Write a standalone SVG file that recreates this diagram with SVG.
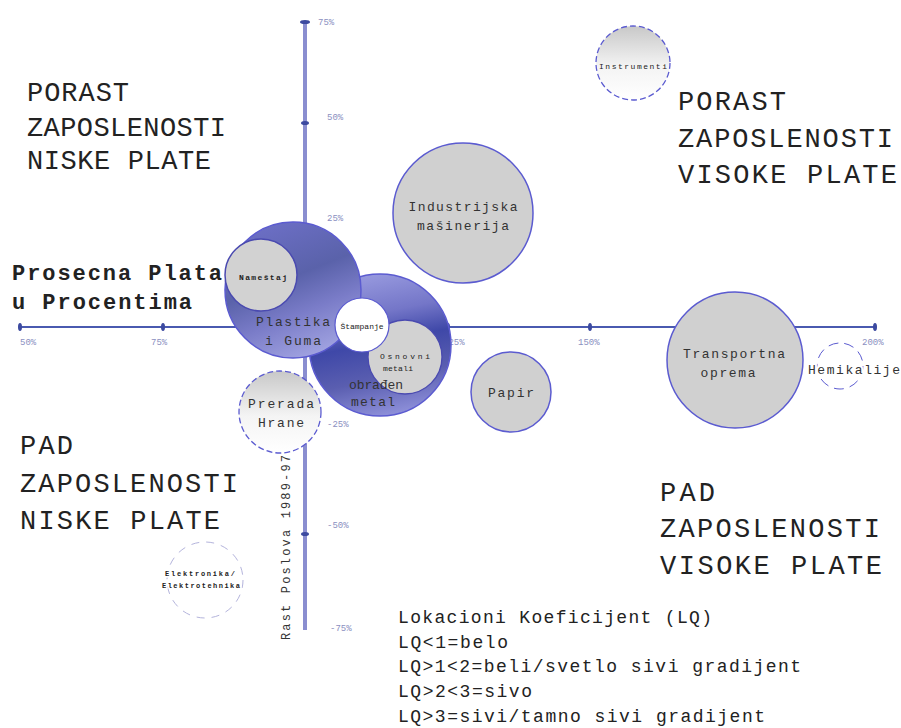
<svg xmlns="http://www.w3.org/2000/svg" width="901" height="728" viewBox="0 0 901 728">
<style>
text{font-family:"Liberation Mono","Courier New",monospace;fill:#222}
.big{font-size:27px}
.pp{font-size:22px;font-weight:bold}
.leg{font-size:18px}
.ax{font-size:9px;fill:#8a8fbf}
.lbl{font-size:13px;fill:#333}
.sm{font-size:8px;fill:#222}
.gray{fill:#d0d0d0;stroke:#5b5bd0;stroke-width:1.5}
.dash{stroke:#5b5bd0;stroke-width:1.3;stroke-dasharray:6 3}
.tick{fill:#3c4aa0}
</style>
<defs>
<linearGradient id="wg" x1="0" y1="0" x2="0" y2="1">
<stop offset="0" stop-color="#c8c8c8"/><stop offset="0.55" stop-color="#f4f4f4"/><stop offset="1" stop-color="#ffffff"/>
</linearGradient>
<linearGradient id="bg1" x1="0.2" y1="0" x2="0.6" y2="1">
<stop offset="0" stop-color="#6e70c8"/><stop offset="0.45" stop-color="#5a62aa"/><stop offset="0.7" stop-color="#7a7cc8"/><stop offset="1" stop-color="#a0a2e0"/>
</linearGradient>
<linearGradient id="bg2" x1="0.3" y1="0" x2="0.5" y2="1">
<stop offset="0" stop-color="#9a9ce0"/><stop offset="0.3" stop-color="#7476c8"/><stop offset="0.5" stop-color="#3f48a8"/><stop offset="0.75" stop-color="#5a5eb0"/><stop offset="1" stop-color="#8c8ed8"/>
</linearGradient>
</defs>
<rect width="901" height="728" fill="#fff"/>
<g id="axes">
<line x1="305" y1="22" x2="305" y2="630" stroke="#8a8ed0" stroke-width="4"/>
<line x1="20" y1="327" x2="875" y2="327" stroke="#4a5ab0" stroke-width="2"/>
<ellipse class="tick" cx="305" cy="22" rx="5" ry="2"/>
<ellipse class="tick" cx="305" cy="123" rx="4" ry="2"/>
<ellipse class="tick" cx="305" cy="534" rx="4" ry="2"/>
<ellipse class="tick" cx="20" cy="327" rx="2" ry="4"/>
<ellipse class="tick" cx="163" cy="327" rx="2" ry="4"/>
<ellipse class="tick" cx="448" cy="327" rx="2" ry="4"/>
<ellipse class="tick" cx="590" cy="327" rx="2" ry="4"/>
<ellipse class="tick" cx="875" cy="327" rx="2" ry="4"/>
<text class="ax" x="318" y="25">75%</text>
<text class="ax" x="327" y="120">50%</text>
<text class="ax" x="327" y="221">25%</text>
<text class="ax" x="327" y="427">-25%</text>
<text class="ax" x="327" y="528">-50%</text>
<text class="ax" x="330" y="631">-75%</text>
<text class="ax" x="20" y="345">50%</text>
<text class="ax" x="151" y="345">75%</text>
<text class="ax" x="443" y="345">125%</text>
<text class="ax" x="578" y="345">150%</text>
<text class="ax" x="862" y="345">200%</text>
<text class="lbl" transform="translate(290,640) rotate(-90)" textLength="185" lengthAdjust="spacing" style="font-size:12px">Rast Poslova 1989-97</text>
</g>
<g id="quadrants">
<text class="big" x="27" y="101" textLength="102" lengthAdjust="spacing">PORAST</text>
<text class="big" x="27" y="136" textLength="199" lengthAdjust="spacing">ZAPOSLENOSTI</text>
<text class="big" x="27" y="169" textLength="184" lengthAdjust="spacing">NISKE PLATE</text>
<text class="big" x="678" y="110" textLength="108" lengthAdjust="spacing">PORAST</text>
<text class="big" x="678" y="147" textLength="215" lengthAdjust="spacing">ZAPOSLENOSTI</text>
<text class="big" x="678" y="183" textLength="219" lengthAdjust="spacing">VISOKE PLATE</text>
<text class="big" x="20" y="454" textLength="53" lengthAdjust="spacing">PAD</text>
<text class="big" x="20" y="492" textLength="218" lengthAdjust="spacing">ZAPOSLENOSTI</text>
<text class="big" x="20" y="529" textLength="200" lengthAdjust="spacing">NISKE PLATE</text>
<text class="big" x="660" y="501" textLength="55" lengthAdjust="spacing">PAD</text>
<text class="big" x="660" y="537" textLength="220" lengthAdjust="spacing">ZAPOSLENOSTI</text>
<text class="big" x="660" y="574" textLength="222" lengthAdjust="spacing">VISOKE PLATE</text>
<text class="pp" x="12" y="280" textLength="210" lengthAdjust="spacing">Prosecna Plata</text>
<text class="pp" x="12" y="309" textLength="180" lengthAdjust="spacing">u Procentima</text>
</g>
<g id="instrumenti">
<circle cx="633" cy="63" r="37" fill="url(#wg)" class="dash"/>
<text class="sm" x="633" y="69" text-anchor="middle" textLength="68" lengthAdjust="spacing">Instrumenti</text>
</g>
<g id="industrijska">
<circle cx="463" cy="213" r="70" class="gray"/>
<text class="lbl" x="463" y="211" text-anchor="middle" textLength="109" lengthAdjust="spacing">Industrijska</text>
<text class="lbl" x="463" y="230" text-anchor="middle" textLength="92" lengthAdjust="spacing">mašinerija</text>
</g>
<g id="obradjen">
<circle cx="380" cy="345" r="71" fill="url(#bg2)" stroke="#5b5bd0" stroke-width="1.5"/>
</g>
<g id="osnovni">
<circle cx="405" cy="357" r="37" fill="#d2d2d2" stroke="#4a4ab0" stroke-width="1.3"/>
<text class="sm" x="405" y="359" text-anchor="middle" textLength="50" lengthAdjust="spacing">Osnovni</text>
<text class="sm" x="398" y="371" text-anchor="middle" textLength="30" lengthAdjust="spacing">metali</text>
</g>
<g id="obradjen-label">
<text class="lbl" x="376" y="389" text-anchor="middle" textLength="54" lengthAdjust="spacing">obrađen</text>
<text class="lbl" x="373" y="406" text-anchor="middle" textLength="44" lengthAdjust="spacing">metal</text>
</g>
<g id="plastika">
<circle cx="293" cy="290" r="68" fill="url(#bg1)" stroke="#5b5bd0" stroke-width="1.5"/>
<text class="lbl" x="293" y="326" text-anchor="middle" textLength="74" lengthAdjust="spacing">Plastika</text>
<text class="lbl" x="293" y="345" text-anchor="middle" textLength="56" lengthAdjust="spacing">i Guma</text>
</g>
<g id="namestaj">
<circle cx="261" cy="275" r="36" fill="#d2d2d2" stroke="#4a4ab0" stroke-width="1.5"/>
<text class="sm" x="263" y="280" text-anchor="middle" font-weight="bold" textLength="48" lengthAdjust="spacing">Nameštaj</text>
</g>
<g id="stampanje">
<circle cx="362" cy="325" r="27" fill="#fff" stroke="#5b5bd0" stroke-width="1.2"/>
<text class="sm" x="362" y="329" text-anchor="middle" textLength="43" lengthAdjust="spacing">Štampanje</text>
</g>
<g id="prerada">
<circle cx="280" cy="412" r="41" fill="url(#wg)" class="dash"/>
<text class="lbl" x="281" y="408" text-anchor="middle" textLength="66" lengthAdjust="spacing">Prerada</text>
<text class="lbl" x="281" y="427" text-anchor="middle" textLength="46" lengthAdjust="spacing">Hrane</text>
</g>
<g id="papir">
<circle cx="511" cy="392" r="40" class="gray"/>
<text class="lbl" x="511" y="397" text-anchor="middle" textLength="46" lengthAdjust="spacing">Papir</text>
</g>
<g id="transportna">
<circle cx="735" cy="360" r="68" class="gray"/>
<text class="lbl" x="734" y="358" text-anchor="middle" textLength="102" lengthAdjust="spacing">Transportna</text>
<text class="lbl" x="728" y="377" text-anchor="middle" textLength="55" lengthAdjust="spacing">oprema</text>
</g>
<g id="hemikalije">
<circle cx="840" cy="366" r="23" fill="none" stroke="#5b5bd0" stroke-width="1" stroke-dasharray="10 6"/>
<text class="lbl" x="808" y="374" textLength="92" lengthAdjust="spacing" stroke="#fff" stroke-width="4" paint-order="stroke">Hemikalije</text>
</g>
<g id="elektronika">
<circle cx="205" cy="580" r="38" fill="none" stroke="#b4b4dc" stroke-width="1" stroke-dasharray="8 7"/>
<text class="sm" x="200" y="576" text-anchor="middle" font-weight="bold" style="font-size:7px" textLength="70" lengthAdjust="spacing" stroke="#fff" stroke-width="3" paint-order="stroke">Elektronika/</text>
<text class="sm" x="201" y="588" text-anchor="middle" font-weight="bold" style="font-size:7px" textLength="78" lengthAdjust="spacing" stroke="#fff" stroke-width="3" paint-order="stroke">Elektrotehnika</text>
</g>
<g id="legend">
<text class="leg" x="398" y="623" textLength="314" lengthAdjust="spacing">Lokacioni Koeficijent (LQ)</text>
<text class="leg" x="398" y="648" textLength="110" lengthAdjust="spacing">LQ&lt;1=belo</text>
<text class="leg" x="398" y="672" textLength="403" lengthAdjust="spacing">LQ&gt;1&lt;2=beli/svetlo sivi gradijent</text>
<text class="leg" x="398" y="697" textLength="134" lengthAdjust="spacing">LQ&gt;2&lt;3=sivo</text>
<text class="leg" x="398" y="722" textLength="367" lengthAdjust="spacing">LQ&gt;3=sivi/tamno sivi gradijent</text>
</g>
</svg>
